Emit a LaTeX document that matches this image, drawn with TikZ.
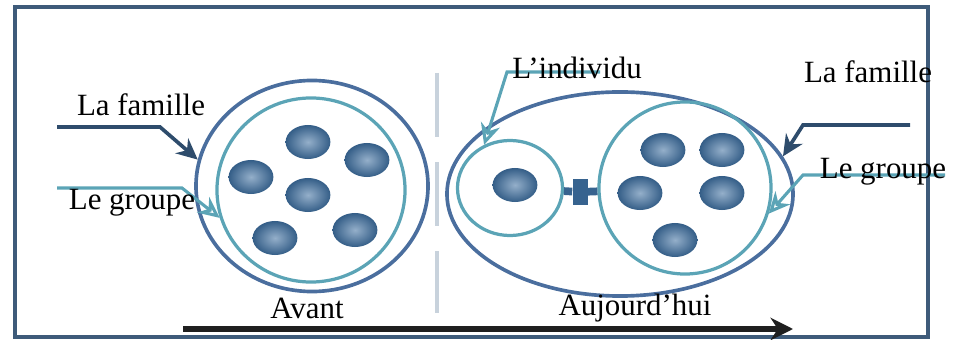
\documentclass[tikz,border=0pt]{standalone}
\usepackage{fontspec}
\setmainfont{Liberation Serif}
\usetikzlibrary{shapes.geometric,arrows.meta}

\definecolor{famblue}{HTML}{4A6E9E}
\definecolor{famdark}{HTML}{2E4C6C}
\definecolor{grpteal}{HTML}{5BA4B6}
\definecolor{framecol}{HTML}{3E5B7A}
\definecolor{blobblue}{HTML}{3D6E9F}
\definecolor{dividercol}{HTML}{C8D2DC}

\begin{document}
\begin{tikzpicture}[x=0.025cm, y=-0.025cm,
  every node/.style={font=\fontsize{22}{26}\selectfont},
  famring/.style={draw=famblue, ellipse, line width=2.6pt, inner sep=0pt},
  grpring/.style={draw=grpteal, ellipse, line width=2.3pt, inner sep=0pt},
  blob/.style={ellipse, shading=radial, inner color=blobblue!55!white, outer color=blobblue!85!black, minimum width=1.12cm, minimum height=0.85cm, inner sep=0pt},
  famarrow/.style={draw=famdark, line width=2.6pt, -{Stealth[length=15pt,width=14pt]}},
  grparrow/.style={draw=grpteal, line width=2.2pt, -{Stealth[length=15pt,width=14pt,open]}}]

\useasboundingbox (0,0) rectangle (966,340);
\draw[framecol, line width=2.8pt] (15,7) rectangle (928,337);
\draw[dividercol, line width=3.5pt, dash pattern=on 1.6cm off 0.625cm] (437,73) -- (437,313);

\node[famring, minimum width=5.8cm, minimum height=5.275cm] (fam1) at (312,186) {};
\node[grpring, minimum width=4.7cm, minimum height=4.6cm] (grp1) at (311,190) {};
\foreach \px/\py [count=\i] in {308/142, 367/160, 251/177, 308/195, 275/238, 355/230}
    \node[blob] (bl\i) at (\px,\py) {};

\node[famring, minimum width=8.65cm, minimum height=5.1cm] (fam2) at (620,194) {};
\node[grpring, minimum width=2.625cm, minimum height=2.375cm] (indiv) at (510,188) {};
\node[grpring, minimum width=4.3cm, minimum height=4.3cm] (grp2) at (685,188) {};
\node[blob] (br0) at (515,185) {};
\foreach \px/\py [count=\i] in {663/150, 722/150, 640/193, 722/193, 675/240}
    \node[blob] (br\i) at (\px,\py) {};

\node[fill=blobblue!90!black, minimum width=0.375cm, minimum height=0.625cm, inner sep=0pt] (joint) at (580,192) {};
\draw[blobblue!90!black, line width=5.5pt] (indiv) -- (joint) -- (grp2);

\coordinate (famL) at (57,127);
\coordinate (grpL) at (57,188);
\coordinate (indT) at (600,72);
\coordinate (famR) at (910,125);
\coordinate (grpR) at (945,175);
\draw[famarrow] (famL) -- ++(103,0) -- (fam1.167);
\draw[grparrow] (grpL) -- ++(125,0) -- (grp1.197);
\draw[grparrow] (indT) -- ++(-93,0) -- (indiv.121);
\draw[famarrow] (famR) -- ++(-107,0) -- (fam2.13);
\draw[grparrow] (grpR) -- ++(-142,0) -- (grp2.-17);

\node (famtxtL) at (141,105) {La famille};
\node (grptxtL) at (132,203) {Le groupe};
\node (indtxt) at (577,68) {L'individu};
\node (famtxtR) at (868,72) {La famille};
\node (grptxtR) at (883,172) {Le groupe};

\coordinate (t0) at (183,329);
\coordinate (t1) at (793,329);
\draw[black!88, line width=4pt, -{Stealth[length=16pt,width=16pt]}] (t0) -- (t1);
\node (avant) at (307,308) {Avant};
\node (auj) at (635,308) {Aujourd'hui};

\end{tikzpicture}
\end{document}
